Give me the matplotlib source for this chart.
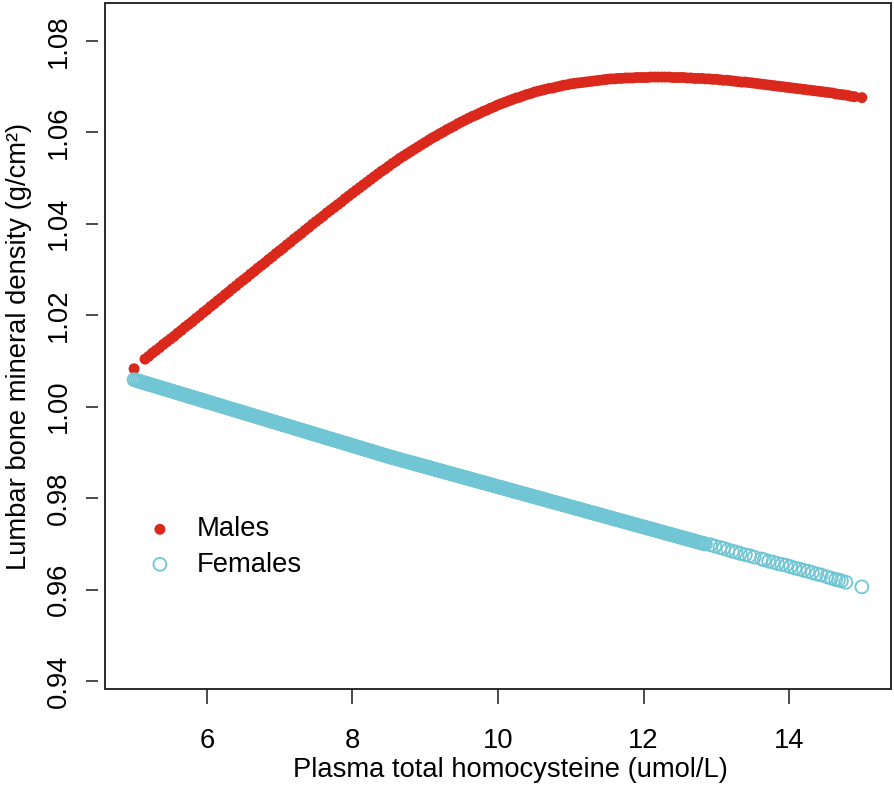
import matplotlib
matplotlib.use("Agg")
import matplotlib.pyplot as plt
from matplotlib.patches import Rectangle

plt.rcParams['font.family'] = ['Liberation Sans', 'DejaVu Sans']

# ---------------- data ----------------
male_hcy = [
    5.00,
    5.15, 5.20, 5.25, 5.30, 5.35, 5.40, 5.45, 5.50,
    5.55, 5.60, 5.65, 5.70, 5.75, 5.80, 5.85, 5.90, 5.95, 6.00,
    6.05, 6.10, 6.15, 6.20, 6.25, 6.30, 6.35, 6.40, 6.45, 6.50,
    6.55, 6.60, 6.65, 6.70, 6.75, 6.80, 6.85, 6.90, 6.95, 7.00,
    7.05, 7.10, 7.15, 7.20, 7.25, 7.30, 7.35, 7.40, 7.45, 7.50,
    7.55, 7.60, 7.65, 7.70, 7.75, 7.80, 7.85, 7.90, 7.95, 8.00,
    8.05, 8.10, 8.15, 8.20, 8.25, 8.30, 8.35, 8.40, 8.45, 8.50,
    8.55, 8.60, 8.65, 8.70, 8.75, 8.80, 8.85, 8.90, 8.95, 9.00,
    9.05, 9.10, 9.15, 9.20, 9.25, 9.30, 9.35, 9.40, 9.45, 9.50,
    9.55, 9.60, 9.65, 9.70, 9.75, 9.80, 9.85, 9.90, 9.95, 10.00,
    10.05, 10.10, 10.15, 10.20, 10.25, 10.30, 10.35, 10.40, 10.45, 10.50,
    10.55, 10.60, 10.65, 10.70, 10.75, 10.80, 10.85, 10.90, 10.95, 11.00,
    11.05, 11.10, 11.15, 11.20, 11.25, 11.30, 11.35, 11.40, 11.45, 11.50,
    11.55, 11.60, 11.65, 11.70, 11.75, 11.80, 11.85, 11.90, 11.95, 12.00,
    12.05, 12.10, 12.15, 12.20, 12.25, 12.30, 12.35, 12.40, 12.45, 12.50,
    12.55, 12.60, 12.65, 12.70, 12.75, 12.80, 12.85, 12.90, 12.95, 13.00,
    13.05, 13.10, 13.15, 13.20, 13.25, 13.30, 13.35, 13.40, 13.45, 13.50,
    13.55, 13.60, 13.65, 13.70, 13.75, 13.80, 13.85, 13.90, 13.95, 14.00,
    14.05, 14.10, 14.15, 14.20, 14.25, 14.30, 14.35, 14.40, 14.45, 14.50,
    14.55, 14.60, 14.65, 14.70, 14.75, 14.80, 14.85, 14.90,
    15.00,
]
male_bmd = [
    1.0083,
    1.0104, 1.0110, 1.0117, 1.0123, 1.0129, 1.0136, 1.0142, 1.0148,
    1.0154, 1.0161, 1.0167, 1.0174, 1.0180, 1.0186, 1.0193, 1.0199, 1.0206, 1.0212,
    1.0219, 1.0225, 1.0232, 1.0238, 1.0245, 1.0251, 1.0258, 1.0264, 1.0271, 1.0277,
    1.0283, 1.0290, 1.0296, 1.0303, 1.0309, 1.0315, 1.0322, 1.0328, 1.0335, 1.0341,
    1.0347, 1.0354, 1.0360, 1.0367, 1.0373, 1.0379, 1.0386, 1.0392, 1.0399, 1.0405,
    1.0411, 1.0417, 1.0424, 1.0430, 1.0436, 1.0442, 1.0448, 1.0455, 1.0461, 1.0467,
    1.0473, 1.0479, 1.0485, 1.0491, 1.0497, 1.0503, 1.0509, 1.0515, 1.0520, 1.0526,
    1.0532, 1.0537, 1.0543, 1.0548, 1.0553, 1.0558, 1.0563, 1.0568, 1.0573, 1.0578,
    1.0583, 1.0588, 1.0592, 1.0597, 1.0601, 1.0606, 1.0610, 1.0614, 1.0619, 1.0623,
    1.0627, 1.0631, 1.0635, 1.0638, 1.0642, 1.0646, 1.0649, 1.0653, 1.0656, 1.0660,
    1.0663, 1.0666, 1.0669, 1.0672, 1.0675, 1.0677, 1.0680, 1.0683, 1.0685, 1.0688,
    1.0690, 1.0692, 1.0694, 1.0696, 1.0697, 1.0699, 1.0701, 1.0703, 1.0704, 1.0706,
    1.0707, 1.0708, 1.0709, 1.0710, 1.0711, 1.0712, 1.0713, 1.0714, 1.0715, 1.0716,
    1.0717, 1.0717, 1.0718, 1.0718, 1.0719, 1.0719, 1.0719, 1.0720, 1.0720, 1.0720,
    1.0720, 1.0721, 1.0721, 1.0721, 1.0721, 1.0721, 1.0721, 1.0720, 1.0720, 1.0720,
    1.0720, 1.0719, 1.0719, 1.0718, 1.0718, 1.0718, 1.0717, 1.0717, 1.0716, 1.0716,
    1.0715, 1.0714, 1.0714, 1.0713, 1.0712, 1.0711, 1.0710, 1.0710, 1.0709, 1.0708,
    1.0707, 1.0706, 1.0705, 1.0704, 1.0703, 1.0702, 1.0701, 1.0700, 1.0699, 1.0698,
    1.0697, 1.0696, 1.0695, 1.0694, 1.0693, 1.0692, 1.0691, 1.0690, 1.0689, 1.0688,
    1.0687, 1.0686, 1.0684, 1.0683, 1.0682, 1.0681, 1.0679, 1.0678,
    1.0676,
]

female_hcy = [
    5.000, 5.025, 5.050, 5.075, 5.100, 5.125, 5.150, 5.175, 5.200, 5.225,
    5.250, 5.275, 5.300, 5.325, 5.350, 5.375, 5.400, 5.425, 5.450, 5.475,
    5.500, 5.525, 5.550, 5.575, 5.600, 5.625, 5.650, 5.675, 5.700, 5.725,
    5.750, 5.775, 5.800, 5.825, 5.850, 5.875, 5.900, 5.925, 5.950, 5.975,
    6.000, 6.025, 6.050, 6.075, 6.100, 6.125, 6.150, 6.175, 6.200, 6.225,
    6.250, 6.275, 6.300, 6.325, 6.350, 6.375, 6.400, 6.425, 6.450, 6.475,
    6.500, 6.525, 6.550, 6.575, 6.600, 6.625, 6.650, 6.675, 6.700, 6.725,
    6.750, 6.775, 6.800, 6.825, 6.850, 6.875, 6.900, 6.925, 6.950, 6.975,
    7.000, 7.025, 7.050, 7.075, 7.100, 7.125, 7.150, 7.175, 7.200, 7.225,
    7.250, 7.275, 7.300, 7.325, 7.350, 7.375, 7.400, 7.425, 7.450, 7.475,
    7.500, 7.525, 7.550, 7.575, 7.600, 7.625, 7.650, 7.675, 7.700, 7.725,
    7.750, 7.775, 7.800, 7.825, 7.850, 7.875, 7.900, 7.925, 7.950, 7.975,
    8.000, 8.025, 8.050, 8.075, 8.100, 8.125, 8.150, 8.175, 8.200, 8.225,
    8.250, 8.275, 8.300, 8.325, 8.350, 8.375, 8.400, 8.425, 8.450, 8.475,
    8.500, 8.525, 8.550, 8.575, 8.600, 8.625, 8.650, 8.675, 8.700, 8.725,
    8.750, 8.775, 8.800, 8.825, 8.850, 8.875, 8.900, 8.925, 8.950, 8.975,
    9.000, 9.025, 9.050, 9.075, 9.100, 9.125, 9.150, 9.175, 9.200, 9.225,
    9.250, 9.275, 9.300, 9.325, 9.350, 9.375, 9.400, 9.425, 9.450, 9.475,
    9.500, 9.525, 9.550, 9.575, 9.600, 9.625, 9.650, 9.675, 9.700, 9.725,
    9.750, 9.775, 9.800, 9.825, 9.850, 9.875, 9.900, 9.925, 9.950, 9.975,
    10.000, 10.025, 10.050, 10.075, 10.100, 10.125, 10.150, 10.175, 10.200, 10.225,
    10.250, 10.275, 10.300, 10.325, 10.350, 10.375, 10.400, 10.425, 10.450, 10.475,
    10.500, 10.525, 10.550, 10.575, 10.600, 10.625, 10.650, 10.675, 10.700, 10.725,
    10.750, 10.775, 10.800, 10.825, 10.850, 10.875, 10.900, 10.925, 10.950, 10.975,
    11.000, 11.025, 11.050, 11.075, 11.100, 11.125, 11.150, 11.175, 11.200, 11.225,
    11.250, 11.275, 11.300, 11.325, 11.350, 11.375, 11.400, 11.425, 11.450, 11.475,
    11.500, 11.525, 11.550, 11.575, 11.600, 11.625, 11.650, 11.675, 11.700, 11.725,
    11.750, 11.775, 11.800, 11.825, 11.850, 11.875, 11.900, 11.925, 11.950, 11.975,
    12.000, 12.025, 12.050, 12.075, 12.100, 12.125, 12.150, 12.175, 12.200, 12.225,
    12.250, 12.275, 12.300, 12.325, 12.350, 12.375, 12.400, 12.425, 12.450, 12.475,
    12.500, 12.525, 12.550, 12.575, 12.600, 12.625, 12.650, 12.675, 12.700, 12.725,
    12.750, 12.775, 12.800, 12.825, 12.850,
    12.92, 12.98, 13.05, 13.10, 13.16, 13.22, 13.27, 13.33, 13.40, 13.46,
    13.52, 13.62, 13.66, 13.72, 13.78, 13.84, 13.90, 13.96, 14.02, 14.08,
    14.14, 14.20, 14.26, 14.32, 14.38, 14.44, 14.52, 14.58, 14.64, 14.68,
    14.72, 14.78, 15.00,
]
female_bmd = [
    1.00590, 1.00578, 1.00566, 1.00554, 1.00542, 1.00530, 1.00518, 1.00506, 1.00494, 1.00482,
    1.00470, 1.00458, 1.00446, 1.00434, 1.00422, 1.00410, 1.00398, 1.00386, 1.00374, 1.00362,
    1.00350, 1.00338, 1.00326, 1.00314, 1.00302, 1.00290, 1.00278, 1.00266, 1.00254, 1.00242,
    1.00230, 1.00218, 1.00206, 1.00194, 1.00182, 1.00170, 1.00158, 1.00146, 1.00134, 1.00122,
    1.00110, 1.00098, 1.00086, 1.00074, 1.00062, 1.00050, 1.00038, 1.00026, 1.00014, 1.00002,
    0.99990, 0.99978, 0.99966, 0.99954, 0.99942, 0.99930, 0.99918, 0.99906, 0.99894, 0.99882,
    0.99870, 0.99858, 0.99846, 0.99834, 0.99822, 0.99810, 0.99798, 0.99786, 0.99774, 0.99762,
    0.99750, 0.99738, 0.99726, 0.99714, 0.99702, 0.99690, 0.99678, 0.99666, 0.99654, 0.99642,
    0.99630, 0.99618, 0.99606, 0.99594, 0.99582, 0.99570, 0.99558, 0.99546, 0.99534, 0.99522,
    0.99510, 0.99498, 0.99486, 0.99474, 0.99462, 0.99450, 0.99438, 0.99426, 0.99414, 0.99402,
    0.99390, 0.99378, 0.99366, 0.99354, 0.99342, 0.99330, 0.99318, 0.99306, 0.99294, 0.99282,
    0.99270, 0.99258, 0.99246, 0.99234, 0.99222, 0.99210, 0.99198, 0.99186, 0.99174, 0.99162,
    0.99150, 0.99138, 0.99126, 0.99114, 0.99102, 0.99090, 0.99078, 0.99066, 0.99054, 0.99042,
    0.99030, 0.99018, 0.99006, 0.98994, 0.98982, 0.98970, 0.98958, 0.98946, 0.98934, 0.98922,
    0.98910, 0.98899, 0.98888, 0.98877, 0.98866, 0.98855, 0.98844, 0.98833, 0.98822, 0.98811,
    0.98800, 0.98789, 0.98778, 0.98767, 0.98756, 0.98745, 0.98734, 0.98723, 0.98712, 0.98701,
    0.98690, 0.98679, 0.98668, 0.98657, 0.98646, 0.98635, 0.98624, 0.98613, 0.98602, 0.98591,
    0.98580, 0.98569, 0.98558, 0.98547, 0.98536, 0.98525, 0.98514, 0.98503, 0.98492, 0.98481,
    0.98470, 0.98459, 0.98448, 0.98437, 0.98426, 0.98415, 0.98404, 0.98393, 0.98382, 0.98371,
    0.98360, 0.98349, 0.98338, 0.98327, 0.98316, 0.98305, 0.98294, 0.98283, 0.98272, 0.98261,
    0.98250, 0.98239, 0.98228, 0.98217, 0.98206, 0.98195, 0.98184, 0.98173, 0.98162, 0.98151,
    0.98140, 0.98129, 0.98118, 0.98107, 0.98096, 0.98085, 0.98074, 0.98063, 0.98052, 0.98041,
    0.98030, 0.98019, 0.98008, 0.97997, 0.97986, 0.97975, 0.97964, 0.97953, 0.97942, 0.97931,
    0.97920, 0.97909, 0.97898, 0.97887, 0.97876, 0.97865, 0.97854, 0.97843, 0.97832, 0.97821,
    0.97810, 0.97799, 0.97788, 0.97777, 0.97766, 0.97755, 0.97744, 0.97733, 0.97722, 0.97711,
    0.97700, 0.97689, 0.97678, 0.97667, 0.97656, 0.97645, 0.97634, 0.97623, 0.97612, 0.97601,
    0.97590, 0.97579, 0.97568, 0.97557, 0.97546, 0.97535, 0.97524, 0.97513, 0.97502, 0.97491,
    0.97480, 0.97469, 0.97458, 0.97447, 0.97436, 0.97425, 0.97414, 0.97403, 0.97392, 0.97381,
    0.97370, 0.97359, 0.97348, 0.97337, 0.97326, 0.97315, 0.97304, 0.97293, 0.97282, 0.97271,
    0.97260, 0.97249, 0.97238, 0.97227, 0.97216, 0.97205, 0.97194, 0.97183, 0.97172, 0.97161,
    0.97150, 0.97139, 0.97128, 0.97117, 0.97106, 0.97095, 0.97084, 0.97073, 0.97062, 0.97051,
    0.97040, 0.97029, 0.97018, 0.97007, 0.96996,
    0.9698, 0.9695, 0.9692, 0.9690, 0.9687, 0.9684, 0.9682, 0.9679, 0.9676, 0.9674,
    0.9671, 0.9667, 0.9665, 0.9662, 0.9660, 0.9657, 0.9655, 0.9653, 0.9650, 0.9647,
    0.9645, 0.9642, 0.9640, 0.9637, 0.9634, 0.9632, 0.9628, 0.9625, 0.9622, 0.9621,
    0.9619, 0.9616, 0.9606,
]

x_ticks = [6, 8, 10, 12, 14]
y_ticks = [0.94, 0.96, 0.98, 1.00, 1.02, 1.04, 1.06, 1.08]
y_tick_labels = ["0.94", "0.96", "0.98", "1.00", "1.02", "1.04", "1.06", "1.08"]
series_labels = ["Males", "Females"]
x_label = "Plasma total homocysteine (umol/L)"
y_label = "Lumbar bone mineral density (g/cm\u00b2)"

# ---------------- styling ----------------
RED = "#DA291C"
CYAN = "#70C6D4"
FS = 19.7

fig = plt.figure(figsize=(8.94, 7.85), dpi=100)
ax = fig.add_axes([0.1174, 0.1223, 0.8792, 0.8739])

m = ax.scatter(male_hcy, male_bmd, s=62, color=RED, edgecolors="none",
               label=series_labels[0], zorder=3)
f = ax.scatter(female_hcy, female_bmd, s=86, facecolors="none",
               edgecolors=CYAN, linewidths=1.3, label=series_labels[1], zorder=3)

ax.set_xlim(4.6, 15.4)
ax.set_ylim(0.93825, 1.0883)

ax.set_xticks(x_ticks)
ax.set_xticklabels([str(t) for t in x_ticks])
ax.set_yticks(y_ticks)
ax.set_yticklabels(y_tick_labels)

for s in ax.spines.values():
    s.set_visible(False)
ax.spines["left"].set_position(("outward", 5))
ax.add_patch(Rectangle((0, 0), 1, 1, transform=ax.transAxes, fill=False,
                       lw=1.3, edgecolor="#1a1a1a", clip_on=False, zorder=5))

ax.tick_params(axis="x", length=11, width=1.1, pad=17, labelsize=FS,
               color="#1a1a1a")
ax.tick_params(axis="y", length=9, width=1.1, pad=10, labelsize=FS,
               color="#1a1a1a", labelrotation=90)
for lab in ax.get_yticklabels():
    lab.set_verticalalignment("center")
    lab.set_horizontalalignment("right")

ax.set_xlabel(x_label, fontsize=FS)
ax.xaxis.set_label_coords(0.5165, -0.099)
ax.xaxis.label.set_va("top")
ax.set_ylabel(y_label, fontsize=FS)
ax.yaxis.set_label_coords(-0.093, 0.5)

ax.legend(handles=[m, f], labels=series_labels, loc="center left",
          bbox_to_anchor=(0.0525, 0.2070), frameon=False, fontsize=FS,
          handlelength=1.0, handletextpad=0.85, labelspacing=0.33,
          borderpad=0, borderaxespad=0, scatterpoints=1)

fig.savefig("out.png", dpi=100)
